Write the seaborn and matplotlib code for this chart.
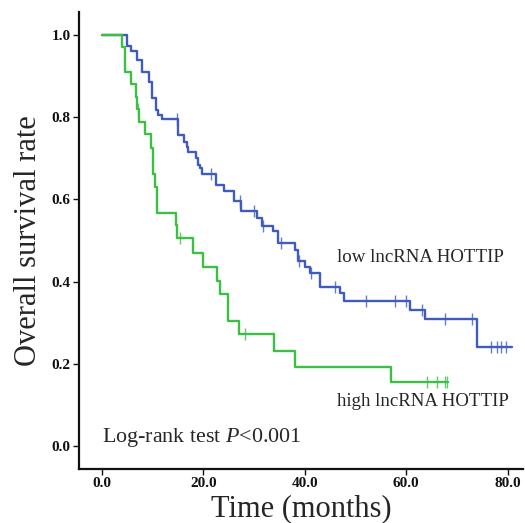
import numpy as np
import pandas as pd
import matplotlib
matplotlib.use('Agg')
import matplotlib.pyplot as plt
import seaborn as sns

# Curva "low lncRNA HOTTIP" (tempos de queda e sobrevida logo após cada queda)
low_times = [4.9, 5.8, 6.9, 7.9, 9.2, 9.9, 10.7, 11.1, 11.8, 15.0, 16.1, 16.7,
             17.0, 18.5, 19.0, 19.3, 19.7, 22.6, 24.0, 26.1, 27.5, 30.5, 31.5,
             33.8, 34.8, 38.1, 38.6, 40.0, 41.0, 43.0, 47.0, 47.8, 60.8, 63.7,
             73.9]
low_surv = [0.973, 0.960, 0.939, 0.911, 0.885, 0.846, 0.818, 0.805, 0.795,
            0.757, 0.740, 0.728, 0.716, 0.700, 0.684, 0.676, 0.662, 0.635,
            0.621, 0.597, 0.573, 0.554, 0.536, 0.524, 0.495, 0.478, 0.449,
            0.435, 0.420, 0.386, 0.372, 0.353, 0.331, 0.308, 0.240]
low_end = 80.8
low_censor = [14.8, 21.6, 27.2, 30.0, 31.8, 35.4, 38.8, 41.2, 45.9, 52.1, 57.8,
              60.0, 63.1, 67.7, 72.9, 76.8, 77.8, 78.7, 79.7]

# Curva "high lncRNA HOTTIP"
high_times = [3.9, 4.5, 5.8, 6.7, 6.9, 7.3, 8.5, 9.7, 10.1, 10.4, 10.8, 14.6,
              14.9, 18.0, 20.0, 22.7, 23.3, 24.9, 27.0, 33.9, 38.1, 57.0]
high_surv = [0.972, 0.911, 0.880, 0.850, 0.820, 0.789, 0.758, 0.724, 0.663,
             0.631, 0.566, 0.538, 0.505, 0.469, 0.436, 0.401, 0.370, 0.303,
             0.272, 0.231, 0.191, 0.155]
high_end = 68.3
high_censor = [7.1, 15.4, 28.3, 64.1, 66.0, 67.7, 68.0]

x_ticks = [0, 20, 40, 60, 80]
y_ticks = [0.0, 0.2, 0.4, 0.6, 0.8, 1.0]

blue = '#3f5bbd'
green = '#3bbf45'


def step_frame(times, surv, end):
    """Monta a tabela da curva em degraus (começa em t=0, S=1)"""
    t = [0.0] + list(times) + [end]
    s = [1.0] + list(surv) + [surv[-1]]
    return pd.DataFrame({'t': t, 's': s})


def censor_frame(times, surv, censor):
    """Posiciona as marcas de censura sobre a curva"""
    idx = np.searchsorted(times, censor, side='right') - 1
    vals = [1.0 if i < 0 else surv[i] for i in idx]
    return pd.DataFrame({'t': censor, 's': vals})


sns.set_style('ticks')
plt.rcParams['font.family'] = ['Liberation Serif', 'DejaVu Serif']
plt.rcParams['mathtext.fontset'] = 'custom'
plt.rcParams['mathtext.rm'] = 'Liberation Serif'
plt.rcParams['mathtext.it'] = 'Liberation Serif:italic'

fig = plt.figure(figsize=(5.25, 5.23), dpi=100)
ax = fig.add_axes([0.1505, 0.1033, 0.8455, 0.8737])

for times, surv, end, cens, col in [
        (low_times, low_surv, low_end, low_censor, blue),
        (high_times, high_surv, high_end, high_censor, green)]:
    sns.lineplot(data=step_frame(times, surv, end), x='t', y='s', ax=ax,
                 color=col, lw=1.7, drawstyle='steps-post', estimator=None,
                 sort=False)
    cf = censor_frame(times, surv, cens)
    ax.plot(cf['t'], cf['s'], ls='none', marker='|', ms=8, mew=1.0,
            color=col, alpha=0.8)

ax.set_xlim(-4.5, 83.0)
ax.set_ylim(-0.056, 1.056)
ax.set_xticks(x_ticks)
ax.set_xticklabels([f'{v:.1f}' for v in x_ticks])
ax.set_yticks(y_ticks)
ax.set_yticklabels([f'{v:.1f}' for v in y_ticks])
for lab in ax.get_xticklabels() + ax.get_yticklabels():
    lab.set_fontweight('bold')
    lab.set_fontsize(11)
ax.tick_params(direction='out', length=4, width=1, pad=2, color='#111111',
               labelcolor='#111111')

# Só os eixos da esquerda e de baixo
sns.despine(ax=ax)
for side in ['left', 'bottom']:
    ax.spines[side].set_linewidth(1.6)
    ax.spines[side].set_color('#111111')

ax.set_xlabel('Time (months)', fontsize=22, labelpad=3)
ax.set_ylabel('Overall survival rate', fontsize=22, labelpad=6)

ax.text(0.581, 0.462, 'low lncRNA HOTTIP', transform=ax.transAxes,
        fontsize=13.6, va='center')
ax.text(0.581, 0.147, 'high lncRNA HOTTIP', transform=ax.transAxes,
        fontsize=13.6, va='center')
ax.text(0.052, 0.068, 'Log-rank test $\\it{P}$<0.001', transform=ax.transAxes,
        fontsize=15.8, va='center')

fig.savefig('out.png', dpi=100)
